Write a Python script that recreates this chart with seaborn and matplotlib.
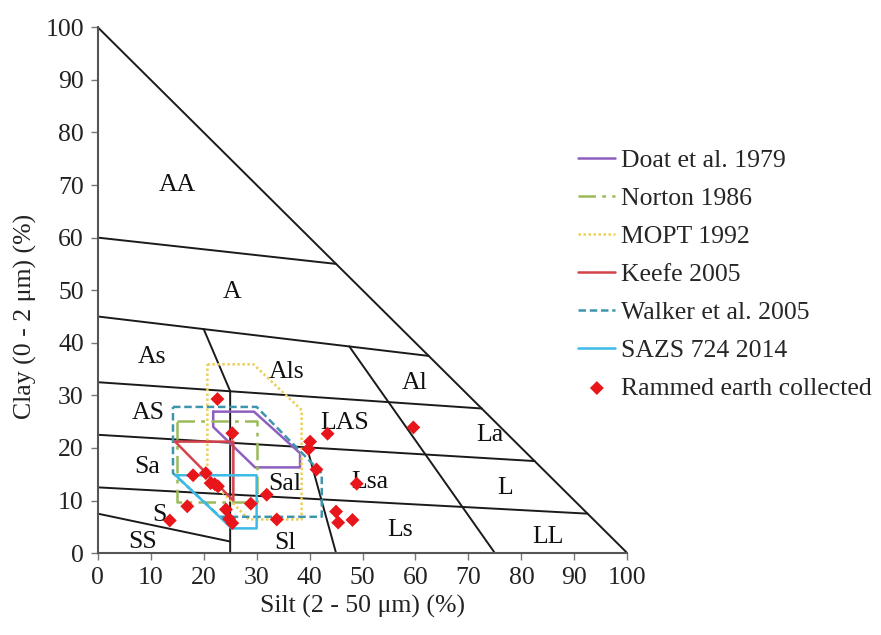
import matplotlib
matplotlib.use("Agg")
import matplotlib.pyplot as plt
import seaborn as sns
import pandas as pd

# texture class boundaries, silt (%) vs clay (%)
outer_silt = [0, 100]
outer_clay = [100, 0]
line_aa_silt = [0, 45]
line_aa_clay = [60, 55]
line_a_silt = [0, 62.5]
line_a_clay = [45, 37.5]
line_as_silt = [0, 72.5]
line_as_clay = [32.5, 27.5]
line_sa_silt = [0, 82.5]
line_sa_clay = [22.5, 17.5]
line_s_silt = [0, 92.5]
line_s_clay = [12.5, 7.5]
line_ss_silt = [0, 25]
line_ss_clay = [7.5, 2.2]
line_sand_silt = [20, 25, 25]
line_sand_clay = [42.6, 30.8, 0]
line_lsa_silt = [39.5, 45]
line_lsa_clay = [20.1, 0]
line_la_silt = [47.5, 75]
line_la_clay = [39.3, 0]

# recommended grading zones
doat_silt = [21.8, 29.5, 38.2, 38.2, 29.7, 21.8, 21.8]
doat_clay = [26.9, 26.9, 19.0, 16.3, 16.3, 24.0, 26.9]
norton_silt = [15, 30, 30, 15, 15]
norton_clay = [25.2, 25.2, 9.8, 9.8, 25.2]
mopt_silt = [20.7, 29.4, 38.5, 38.5, 28.5, 20.7, 20.7]
mopt_clay = [35.9, 35.9, 27.2, 6.4, 6.4, 14.5, 35.9]
keefe_silt = [14.6, 25.6, 25.6, 14.6]
keefe_clay = [21.2, 21.2, 10.0, 21.2]
walker_silt = [14.2, 30.0, 42.3, 42.3, 23.1, 14.2, 14.2]
walker_clay = [27.8, 27.8, 15.2, 6.9, 6.9, 15.2, 27.8]
sazs_silt = [14.7, 30.0, 30.0, 25.3, 14.7]
sazs_clay = [14.8, 14.8, 4.7, 4.7, 14.8]

# samples
sample_silt = [22.6, 25.4, 18.0, 20.4, 21.3, 22.1, 22.7, 16.9, 13.6, 24.2, 24.8, 25.4,
               28.9, 31.9, 33.8, 40.1, 39.8, 41.3, 43.4, 45.0, 45.4, 59.6, 48.9, 48.1]
sample_clay = [29.3, 22.8, 14.8, 15.2, 13.3, 13.1, 12.7, 8.9, 6.2, 8.3, 6.5, 5.7,
               9.4, 11.1, 6.4, 21.2, 19.8, 15.9, 22.7, 7.9, 5.8, 23.9, 13.2, 6.3]

# class names
class_names = ["AA", "A", "As", "Als", "Al", "AS", "LAS", "La", "Sa", "Sal", "Lsa",
               "L", "S", "Ls", "LL", "SS", "Sl"]
class_silt = [15.1, 25.3, 10.2, 35.7, 59.9, 9.5, 46.7, 74.1, 9.3, 35.4, 51.4,
              76.9, 11.7, 57.1, 85.0, 8.5, 35.4]
class_clay = [70.0, 49.6, 37.3, 34.4, 32.3, 26.6, 24.7, 22.4, 16.3, 13.1, 13.5,
              12.4, 7.2, 4.4, 3.0, 2.1, 1.9]

sns.set_style("ticks")
plt.rcParams['font.family'] = ['Liberation Serif', 'DejaVu Serif']

fig = plt.figure(figsize=(8.81, 6.35), dpi=100)
ax = fig.add_axes([0.111, 0.129, 0.601, 0.828])

boundaries = [
    (outer_silt, outer_clay), (line_aa_silt, line_aa_clay), (line_a_silt, line_a_clay),
    (line_as_silt, line_as_clay), (line_sa_silt, line_sa_clay), (line_s_silt, line_s_clay),
    (line_ss_silt, line_ss_clay), (line_sand_silt, line_sand_clay),
    (line_lsa_silt, line_lsa_clay), (line_la_silt, line_la_clay),
]
for bx, by in boundaries:
    sns.lineplot(x=bx, y=by, sort=False, estimator=None, color="#1a1a1a",
                 lw=1.4, ax=ax)

zones = [
    ("Doat et al. 1979", doat_silt, doat_clay, "#8e5ec0", "-"),
    ("Norton 1986", norton_silt, norton_clay, "#9bbb59", (0, (7, 2.5, 1.5, 2.5))),
    ("MOPT 1992", mopt_silt, mopt_clay, "#ecd059", (0, (1, 1))),
    ("Keefe 2005", keefe_silt, keefe_clay, "#d4424a", "-"),
    ("Walker et al. 2005", walker_silt, walker_clay, "#3f95ad", (0, (3, 1.5))),
    ("SAZS 724 2014", sazs_silt, sazs_clay, "#3cbbe8", "-"),
]
for name, zx, zy, col, ls in zones:
    sns.lineplot(x=zx, y=zy, sort=False, estimator=None, color=col, lw=1.8,
                 linestyle=ls, label=name, ax=ax)

samples = pd.DataFrame({"silt": sample_silt, "clay": sample_clay})
sns.scatterplot(data=samples, x="silt", y="clay", marker="D", s=50, color="#e8151b",
                edgecolor="none", label="Rammed earth collected", ax=ax, zorder=5)

for name, cx, cy in zip(class_names, class_silt, class_clay):
    ax.text(cx, cy, name, ha="center", va="center", fontsize=18.5, color="#111111")

ax.set_xlim(0, 100)
ax.set_ylim(0, 100)
ax.set_xticks(range(0, 101, 10))
ax.set_yticks(range(0, 101, 10))
sns.despine(ax=ax)
for sp in ["left", "bottom"]:
    ax.spines[sp].set_color("#555555")
    ax.spines[sp].set_linewidth(1.5)
ax.tick_params(axis="both", direction="out", length=5, width=1, color="#777777",
               labelsize=18.5, labelcolor="#222222", pad=5)
ax.set_xlabel("Silt (2 - 50 μm) (%)", fontsize=18.5, color="#222222")
ax.set_ylabel("Clay (0 - 2 μm) (%)", fontsize=18.5, color="#222222")
ax.yaxis.set_label_coords(-0.115, 0.45)

handles, labels = ax.get_legend_handles_labels()
ax.legend(handles, labels, loc="upper left", bbox_to_anchor=(0.633, 0.797),
          bbox_transform=fig.transFigure, frameon=False, fontsize=18.5,
          handlelength=1.45, handletextpad=0.2, labelspacing=0.58, borderpad=0.3)

fig.savefig("out.png", dpi=100)
